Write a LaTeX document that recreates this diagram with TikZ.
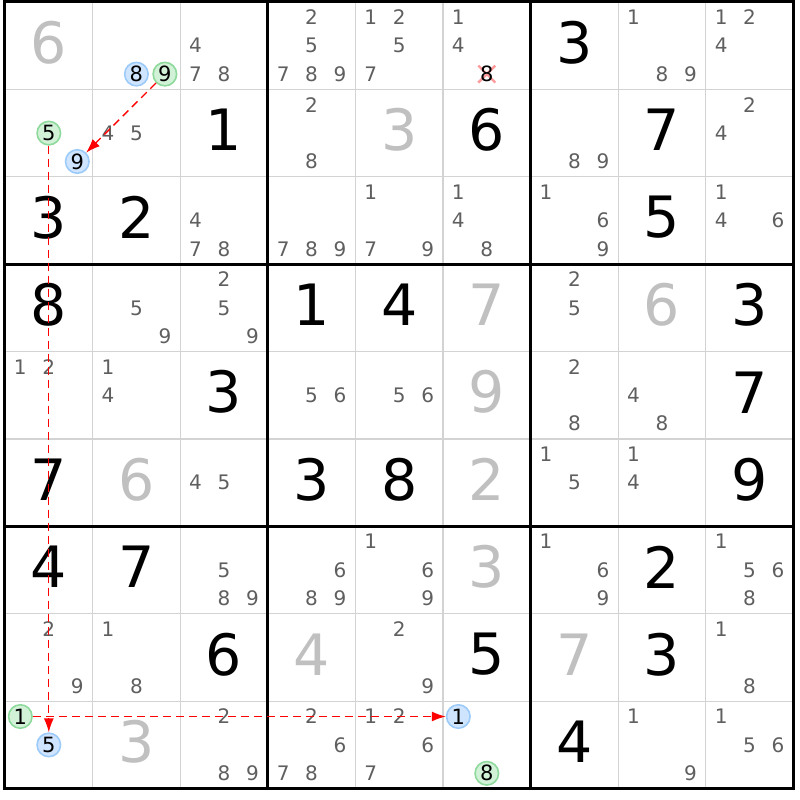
\documentclass[tikz,border=0pt]{standalone}
\usepackage{fontspec}
\setmainfont{DejaVu Sans}
\usepackage{tikz}
\usetikzlibrary{arrows.meta}
\usetikzlibrary{calc}
\definecolor{candgray}{HTML}{5F5F5F}
\definecolor{solvedgray}{HTML}{C0C0C0}
\definecolor{thingray}{HTML}{D3D3D3}
\definecolor{bluefill}{HTML}{CFE5FF}
\definecolor{bluering}{HTML}{9CCBFA}
\definecolor{greenfill}{HTML}{D2F2D8}
\definecolor{greenring}{HTML}{8ED99C}
\definecolor{crossred}{HTML}{FF9A9A}
\tikzstyle{given}=[inner sep=0pt,font=\fontsize{57}{57}\selectfont]
\tikzstyle{solved}=[given,text=solvedgray]
\tikzstyle{cand}=[inner sep=0pt,text=candgray,font=\fontsize{20}{20}\selectfont]
\tikzstyle{bluecand}=[cand,text=black,font=\fontsize{21}{21}\selectfont,circle,draw=bluering,fill=bluefill,line width=1.6pt,minimum size=23.5pt]
\tikzstyle{greencand}=[bluecand,draw=greenring,fill=greenfill]

\begin{document}
\begin{tikzpicture}[x=87.6pt,y=-87.4pt,
  link/.style={draw=red,line width=1.3pt,dash pattern=on 8pt off 5pt,-{Latex[length=14pt,width=10pt]}}]
\fill[white] (-5pt,2pt) rectangle (795pt,-798pt);
\useasboundingbox (-5pt,2pt) rectangle (795pt,-798pt);

% grid
\foreach \i in {1,2,4,5,7,8}{
  \draw[thingray,line width=1.3pt] (\i,0) -- (\i,9);
  \draw[thingray,line width=1.3pt] (0,\i) -- (9,\i);
}
\foreach \i in {3,6}{
  \draw[line width=3pt] (\i,0) -- (\i,9);
  \draw[line width=3pt] (0,\i) -- (9,\i);
}
\draw[line width=3pt] (0,0) rectangle (9,9);

% givens and solved cells
\foreach \c/\r/\d in {7/1/3, 3/2/1, 6/2/6, 8/2/7, 1/3/3, 2/3/2, 8/3/5,
    1/4/8, 4/4/1, 5/4/4, 9/4/3, 3/5/3, 9/5/7, 1/6/7, 4/6/3, 5/6/8, 9/6/9,
    1/7/4, 2/7/7, 8/7/2, 3/8/6, 6/8/5, 8/8/3, 7/9/4}
  \node[given] (n\c\r) at (\c-0.5,\r-0.535) {\d};
\foreach \c/\r/\d in {1/1/6, 5/2/3, 6/4/7, 8/4/6, 6/5/9, 2/6/6, 6/6/2,
    6/7/3, 4/8/4, 7/8/7, 2/9/3}
  \node[solved] (n\c\r) at (\c-0.5,\r-0.535) {\d};

% pencil marks
\foreach \c/\r/\ds in {3/1/{4,7,8}, 4/1/{2,5,7,8,9}, 5/1/{1,2,5,7}, 6/1/{1,4},
    8/1/{1,8,9}, 9/1/{1,2,4},
    2/2/{4,5}, 4/2/{2,8}, 7/2/{8,9}, 9/2/{2,4},
    3/3/{4,7,8}, 4/3/{7,8,9}, 5/3/{1,7,9}, 6/3/{1,4,8}, 7/3/{1,6,9}, 9/3/{1,4,6},
    2/4/{5,9}, 3/4/{2,5,9}, 7/4/{2,5},
    1/5/{1,2}, 2/5/{1,4}, 4/5/{5,6}, 5/5/{5,6}, 7/5/{2,8}, 8/5/{4,8},
    3/6/{4,5}, 7/6/{1,5}, 8/6/{1,4},
    3/7/{5,8,9}, 4/7/{6,8,9}, 5/7/{1,6,9}, 7/7/{1,6,9}, 9/7/{1,5,6,8},
    1/8/{2,9}, 2/8/{1,8}, 5/8/{2,9}, 9/8/{1,8},
    3/9/{2,8,9}, 4/9/{2,6,7,8}, 5/9/{1,2,6,7}, 8/9/{1,9}, 9/9/{1,5,6}}
  \foreach \d in \ds {
    \pgfmathsetmacro\dx{mod(\d-1,3)-1}
    \pgfmathsetmacro\dy{div(\d-1,3)-1}
    \node[cand] (p\c\r\d) at (\c-0.5+0.325*\dx,\r-0.5+0.325*\dy) {\d};
  }

% eliminated candidate
\coordinate (xc) at (5.5,0.825);
\draw[crossred,line width=2.4pt] ([shift={(-8.5pt,-8.5pt)}]xc) -- ([shift={(8.5pt,8.5pt)}]xc);
\draw[crossred,line width=2.4pt] ([shift={(-8.5pt,8.5pt)}]xc) -- ([shift={(8.5pt,-8.5pt)}]xc);
\node[cand,text=black,font=\fontsize{21}{21}\selectfont] (x8) at (xc) {8};

% chain
\node[bluecand] (b8) at (1.5,0.825) {8};
\node[greencand] (g9) at (1.825,0.825) {9};
\node[greencand] (g5) at (0.5,1.5) {5};
\node[bluecand] (b9) at (0.825,1.825) {9};
\node[greencand] (g1) at (0.175,8.175) {1};
\node[bluecand] (b5) at (0.5,8.5) {5};
\node[bluecand] (b1) at (5.175,8.175) {1};
\node[greencand] (g8) at (5.5,8.825) {8};

\draw[link] (g9) -- (b9);
\draw[link] (g5) -- (b5);
\draw[link] (g1) -- (b1);
\end{tikzpicture}
\end{document}
